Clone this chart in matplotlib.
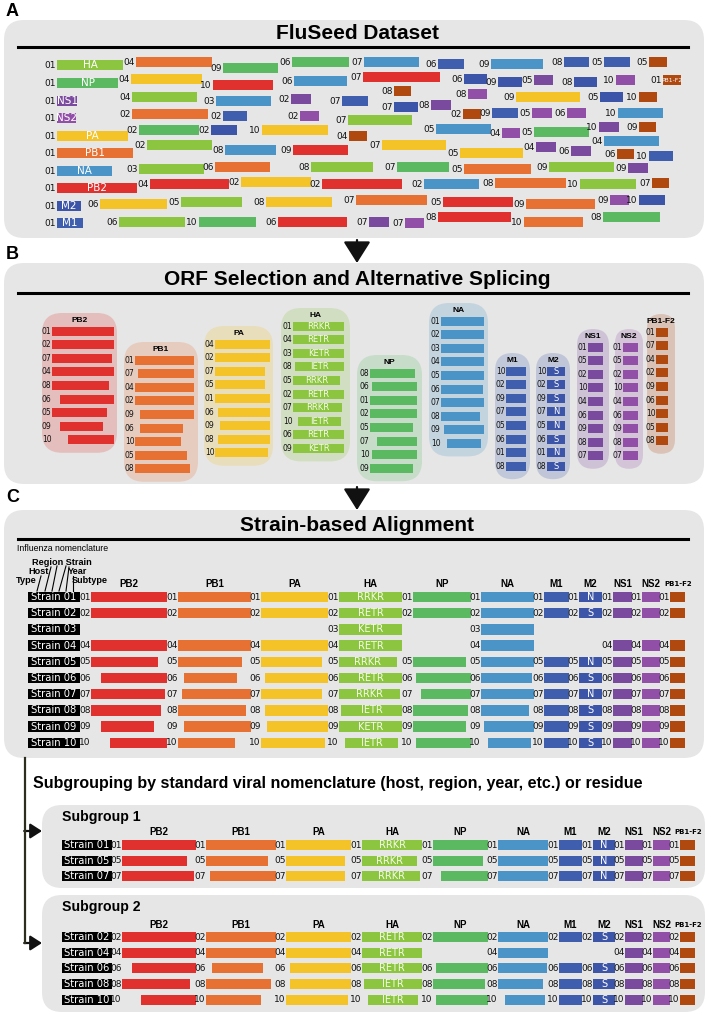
import matplotlib
matplotlib.use('Agg')
import matplotlib.pyplot as plt
from matplotlib.patches import FancyBboxPatch
from matplotlib import font_manager as fm

# ---------------- data ----------------
GENES = ['PB2', 'PB1', 'PA', 'HA', 'NP', 'NA', 'M1', 'M2', 'NS1', 'NS2', 'PB1-F2']
COL = {'PB2': '#e0312f', 'PB1': '#e77132', 'PA': '#f4c327', 'HA': '#8cc540',
       'NP': '#5bb962', 'NA': '#4a94c8', 'M1': '#3f5fae', 'M2': '#3d55a8',
       'NS1': '#7a4a9e', 'NS2': '#914fa8', 'PB1-F2': '#b0490f'}

# ORF extent (fraction of full-length segment) per strain 01..10 ; None = missing
PB2_orf = [(0, 1), (0, 1), None, (0, 1), (0, .88), (.13, 1), (0, .97), (0, .92), (.13, .83), (.25, 1)]
PB1_orf = [(0, 1), (0, 1), None, (0, 1), (0, .88), (.08, .81), (.05, 1), (0, .93), (.08, 1), (0, .78)]
PA_orf = [(0, 1), (0, 1), None, (0, 1), (0, .91), (.06, 1), (0, .91), (.06, 1), (.09, 1), (0, .96)]
HA_orf = [(0, 1), (0, 1), (0, 1), (0, 1), (0, .92), (0, 1), (0, .97), (.03, 1), (0, 1), (.1, .94)]
NP_orf = [(0, 1), (0, 1), None, None, (0, .91), (.05, 1), (.14, 1), (0, .95), (0, .91), (.05, 1)]
NA_orf = [(0, 1), (0, 1), (0, 1), (0, 1), (0, 1), (0, .97), (0, 1), (0, .9), (.06, 1), (.13, .94)]
M1_orf = [(0, 1), (0, 1), None, None, (0, 1), (0, 1), (0, 1), (0, 1), (0, 1), (0, 1)]
M2_orf = [(0, 1), (0, 1), None, None, (0, 1), (0, 1), (0, 1), (0, 1), (0, 1), (0, 1)]
NS1_orf = [(0, 1), (0, 1), None, (0, 1), (0, 1), (0, 1), (0, 1), (0, 1), (0, 1), (0, 1)]
NS2_orf = [(0, 1), (0, 1), None, (0, 1), (0, 1), (0, 1), (0, 1), (0, 1), (0, 1), (0, 1)]
PB1F2_orf = [(0, 1), (0, 1), None, (0, 1), (0, 1), (0, 1), (0, 1), (0, 1), (0, 1), (0, 1)]
HA_site = ['RRKR', 'RETR', 'KETR', 'RETR', 'RRKR', 'RETR', 'RRKR', 'IETR', 'KETR', 'IETR']
M2_res = ['N', 'S', None, None, 'N', 'S', 'N', 'S', 'S', 'S']

# Panel A: unaligned dataset (strain, segment, left, right, row y)
A_strain = ['01', '04', '09', '06', '07', '06', '09', '08', '05', '05',
            '01', '04', '10', '06', '07', '06', '09', '05', '08', '10', '01',
            '01', '04', '03', '02', '07', '08', '08', '09', '05', '10',
            '01', '02', '02', '02', '07', '08', '02', '09', '05', '06', '10', '07',
            '01', '02', '02', '10', '04', '05', '04', '05', '10', '09',
            '01', '02', '08', '09', '07', '05', '04', '06', '04', '06', '10',
            '01', '03', '06', '08', '07', '05', '09', '09',
            '01', '04', '02', '02', '02', '08', '10', '07',
            '01', '06', '05', '08', '07', '05', '09', '09', '10',
            '01', '06', '10', '06', '07', '07', '08', '10', '08']
A_gene = ['HA', 'PB1', 'NP', 'NP', 'NA', 'M1', 'NA', 'M1', 'M1', 'PB1-F2',
          'NP', 'PA', 'PB2', 'NA', 'PB2', 'M2', 'M2', 'NS1', 'M2', 'NS2', 'PB1-F2',
          'NS1', 'HA', 'NA', 'NS1', 'M1', 'PB1-F2', 'NS2', 'PA', 'M2', 'PB1-F2',
          'NS2', 'PB1', 'M1', 'NS2', 'M2', 'NS1', 'PB1-F2', 'M1', 'NS2', 'NS2', 'NA', 'HA',
          'PA', 'NP', 'M2', 'PA', 'PB1-F2', 'NA', 'NS2', 'NP', 'NS1', 'PB1-F2',
          'PB1', 'HA', 'NA', 'PB2', 'PA', 'PA', 'NS1', 'NS1', 'NA', 'PB1-F2', 'M1',
          'NA', 'HA', 'PB1', 'HA', 'NP', 'PB1', 'HA', 'NS1',
          'PB2', 'PB2', 'PA', 'PB2', 'NA', 'PB1', 'HA', 'PB1-F2',
          'M2', 'PA', 'HA', 'PA', 'PB1', 'PB2', 'PB1', 'NS2', 'M2',
          'M1', 'HA', 'NP', 'PB2', 'NS1', 'NS2', 'PB2', 'PB1', 'NP']
A_left = [57, 136, 223, 292, 364, 438, 491, 564, 604, 649,
          57, 131, 213, 294, 363, 464, 498, 534, 574, 616, 663,
          57, 132, 216, 291, 342, 394, 468, 516, 600, 639,
          57, 132, 223, 300, 394, 431, 463, 492, 532, 567, 618, 348,
          57, 139, 211, 262, 349, 436, 502, 534, 599, 639,
          57, 147, 225, 293, 382, 460, 536, 571, 604, 617, 649,
          57, 139, 215, 311, 397, 464, 549, 628,
          57, 150, 241, 322, 424, 495, 580, 652,
          57, 100, 181, 266, 356, 443, 526, 610, 639,
          57, 119, 199, 278, 369, 405, 438, 524, 603]
A_right = [123, 212, 278, 349, 419, 464, 543, 589, 630, 667,
           118, 202, 273, 347, 440, 487, 522, 553, 597, 635, 681,
           77, 197, 271, 311, 368, 411, 487, 580, 623, 657,
           76, 208, 247, 319, 418, 451, 481, 518, 552, 586, 663, 412,
           128, 199, 237, 328, 367, 491, 520, 589, 619, 656,
           133, 212, 276, 348, 446, 523, 556, 591, 659, 634, 673,
           112, 204, 270, 373, 449, 531, 614, 648,
           137, 229, 311, 402, 479, 566, 636, 669,
           81, 167, 242, 332, 427, 513, 595, 629, 665,
           83, 185, 256, 347, 389, 424, 511, 583, 660]
A_y = [65, 62, 68, 62, 62, 64, 64, 62, 62, 62,
       83, 79, 85, 81, 77, 79, 82, 80, 82, 80, 80,
       101, 97, 101, 99, 101, 91, 94, 97, 97, 97,
       118, 114, 116, 116, 107, 105, 114, 113, 113, 113, 113, 120,
       136, 130, 130, 130, 136, 129, 133, 132, 127, 127,
       153, 145, 150, 150, 145, 153, 147, 151, 141, 154, 156,
       171, 169, 167, 167, 167, 169, 167, 168,
       188, 184, 182, 184, 184, 183, 184, 183,
       206, 204, 202, 202, 200, 202, 204, 200, 200,
       223, 222, 222, 222, 222, 223, 217, 222, 217]

# Panel B: strain order inside each segment group
B_order = {'PB2': [1, 2, 7, 4, 8, 6, 5, 9, 10], 'PB1': [1, 7, 4, 2, 9, 6, 10, 5, 8],
           'PA': [4, 2, 7, 5, 1, 6, 9, 8, 10], 'HA': [1, 4, 3, 8, 5, 2, 7, 10, 6, 9],
           'NP': [8, 6, 1, 2, 5, 7, 10, 9], 'NA': [1, 2, 3, 4, 5, 6, 7, 8, 9, 10],
           'M1': [10, 2, 9, 7, 5, 6, 1, 8], 'M2': [10, 2, 9, 7, 5, 6, 1, 8],
           'NS1': [1, 5, 2, 10, 4, 6, 9, 8, 7], 'NS2': [1, 5, 2, 10, 4, 6, 9, 8, 7],
           'PB1-F2': [1, 7, 4, 2, 9, 6, 10, 5, 8]}

SUB1 = [1, 5, 7]
SUB2 = [2, 4, 6, 8, 10]

ORF = {'PB2': PB2_orf, 'PB1': PB1_orf, 'PA': PA_orf, 'HA': HA_orf, 'NP': NP_orf,
       'NA': NA_orf, 'M1': M1_orf, 'M2': M2_orf, 'NS1': NS1_orf, 'NS2': NS2_orf,
       'PB1-F2': PB1F2_orf}

# ---------------- setup ----------------
names = {f.name for f in fm.fontManager.ttflist}
NARROW = 'Liberation Sans Narrow' if 'Liberation Sans Narrow' in names else 'DejaVu Sans'
SANS = 'Liberation Sans' if 'Liberation Sans' in names else 'DejaVu Sans'

W, H = 709, 1013
fig = plt.figure(figsize=(W / 100, H / 100), dpi=100)
ax = fig.add_axes([0, 0, 1, 1])
ax.set_xlim(0, W)
ax.set_ylim(H, 0)
ax.axis('off')
GRAY = '#e6e6e6'
TITLE_FS = 15


def rbox(x0, y0, x1, y1, r, fc, z=1, alpha=1):
    ax.add_patch(FancyBboxPatch((x0, y0), x1 - x0, y1 - y0,
                                boxstyle=f"round,pad=0,rounding_size={r}",
                                fc=fc, ec='none', zorder=z, alpha=alpha))


def num(x, y, s, fs=6.5, color='#111111'):
    ax.text(x, y, s, ha='right', va='center', fontsize=fs, family=NARROW,
            color=color, zorder=5)


def bar(y, x0, x1, g, h):
    ax.barh(y, x1 - x0, left=x0, height=h, color=COL[g], zorder=3, linewidth=0)


def down_arrow(x, y0, y1):
    ax.annotate('', xy=(x, y1), xytext=(x, y0),
                arrowprops=dict(arrowstyle='-|>,head_length=0.95,head_width=0.6',
                                color='#111111', lw=1.6, mutation_scale=14,
                                shrinkA=0, shrinkB=0))


# panel letters
for lab, yy in [('A', 11), ('B', 254), ('C', 497)]:
    ax.text(6, yy, lab, fontsize=13, fontweight='bold', family=SANS, va='center', ha='left')

# ---------------- Panel A ----------------
rbox(4, 20, 704, 238, 20, GRAY)
ax.text(357, 33, 'FluSeed Dataset', fontsize=TITLE_FS, fontweight='bold', family=SANS,
        ha='center', va='center')
ax.plot([18, 688], [47, 47], color='black', lw=2.2, zorder=4)
for s, g, x0, x1, y in zip(A_strain, A_gene, A_left, A_right, A_y):
    bar(y, x0, x1, g, 10.5)
    num(x0 - 1.5, y, s)
    if s == '01':
        ax.text((x0 + x1) / 2, y, g, ha='center', va='center', color='white',
                fontsize=4.3 if g == 'PB1-F2' else 7.5, family=NARROW, zorder=5)

down_arrow(357, 240, 263)

# ---------------- Panel B ----------------
rbox(4, 263, 704, 484, 20, GRAY)
ax.text(357, 279, 'ORF Selection and Alternative Splicing', fontsize=TITLE_FS,
        fontweight='bold', family=SANS, ha='center', va='center')
ax.plot([18, 688], [293, 293], color='black', lw=2.2, zorder=4)

B_bar = {'PB2': (52, 114), 'PB1': (135, 194), 'PA': (215, 270), 'HA': (293, 344),
         'NP': (370, 417), 'NA': (441, 484), 'M1': (506, 526), 'M2': (547, 565),
         'NS1': (588, 603), 'NS2': (623, 638), 'PB1-F2': (656, 668)}
B_first = {'PB2': 331, 'PB1': 360, 'PA': 344, 'HA': 326, 'NP': 373, 'NA': 321,
           'M1': 371, 'M2': 371, 'NS1': 347, 'NS2': 347, 'PB1-F2': 332}
B_pill = {'PB2': (42, 117), 'PB1': (124, 198), 'PA': (204, 273), 'HA': (281, 350),
          'NP': (357, 422), 'NA': (429, 488), 'M1': (495, 530), 'M2': (536, 570),
          'NS1': (577, 609), 'NS2': (615, 643), 'PB1-F2': (647, 675)}
STEP_B = 13.6
for g in GENES:
    order = B_order[g]
    y0 = B_first[g]
    ylast = y0 + STEP_B * (len(order) - 1)
    px0, px1 = B_pill[g]
    rbox(px0, y0 - 18, px1, ylast + 13, min((px1 - px0) / 2, 20), COL[g], z=2, alpha=0.22)
    bx0, bx1 = B_bar[g]
    ax.text((px0 + px1) / 2, y0 - 11, g, ha='center', va='center', fontsize=6,
            fontweight='bold', family=SANS, zorder=5)
    w = bx1 - bx0
    for i, s in enumerate(order):
        y = y0 + i * STEP_B
        a, b = ORF[g][s - 1]
        bar(y, bx0 + a * w, bx0 + b * w, g, 9)
        num(bx0 - 0.5, y, f'{s:02d}', fs=5.5)
        if g == 'HA':
            ax.text(bx0 + (a + b) / 2 * w, y, HA_site[s - 1], ha='center', va='center',
                    color='#f4fbe8', fontsize=6, family=NARROW, zorder=5)
        if g == 'M2':
            ax.text(bx0 + (a + b) / 2 * w, y, M2_res[s - 1], ha='center', va='center',
                    color='white', fontsize=6, family=NARROW, zorder=5)

down_arrow(357, 487, 510)

# ---------------- Panel C ----------------
rbox(4, 510, 704, 758, 20, GRAY)
ax.text(357, 525, 'Strain-based Alignment', fontsize=TITLE_FS, fontweight='bold',
        family=SANS, ha='center', va='center')
ax.plot([18, 688], [539, 539], color='black', lw=2.2, zorder=4)

# nomenclature key
ax.text(17, 548, 'Influenza nomenclature', fontsize=6.3, family=SANS, va='center',
        ha='left', fontweight='medium')
ax.text(32, 562, 'Region Strain', fontsize=6.6, family=SANS, va='center', ha='left',
        fontweight='bold')
ax.text(28, 571, 'Host', fontsize=6.6, family=SANS, va='center', ha='left', fontweight='bold')
ax.text(68, 571, 'Year', fontsize=6.6, family=SANS, va='center', ha='left', fontweight='bold')
ax.text(16, 580, 'Type', fontsize=6.6, family=SANS, va='center', ha='left', fontweight='bold')
ax.text(72, 580, 'Subtype', fontsize=6.6, family=SANS, va='center', ha='left', fontweight='bold')
for xt, yt, xb in [(41, 576, 37), (51, 567, 45), (57, 566, 52), (66, 566, 59),
                   (69, 567, 66), (73, 576, 73)]:
    ax.plot([xt, xb], [yt, 591], color='black', lw=0.8, zorder=4)


def draw_alignment(strains, cols, box, y0, dy, head_y, h):
    for g in GENES:
        x0, x1 = cols[g]
        if g == 'PB1-F2':
            ax.text((x0 + x1) / 2 + 1, head_y, g, ha='center', va='center', fontsize=5,
                    family=NARROW, fontweight='bold', zorder=5)
        else:
            ax.text((x0 + x1) / 2, head_y, g, ha='center', va='center', fontsize=7,
                    family=SANS, fontweight='bold', zorder=5)
    for i, s in enumerate(strains):
        y = y0 + i * dy
        ax.barh(y, box[1] - box[0], left=box[0], height=h, color='black', zorder=3)
        ax.text((box[0] + box[1]) / 2, y, f'Strain {s:02d}', ha='center', va='center',
                color='white', fontsize=7.2, family=NARROW, zorder=5)
        for g in GENES:
            orf = ORF[g][s - 1]
            if orf is None:
                continue
            x0, x1 = cols[g]
            w = x1 - x0
            a, b = orf
            bar(y, x0 + a * w, x0 + b * w, g, h)
            num(x0 - 0.5, y, f'{s:02d}')
            mid = x0 + (a + b) / 2 * w
            if g == 'HA':
                ax.text(mid, y, HA_site[s - 1], ha='center', va='center',
                        color='#f4fbe8', fontsize=7, family=NARROW, zorder=5)
            if g == 'M2':
                ax.text(mid, y, M2_res[s - 1], ha='center', va='center',
                        color='white', fontsize=7, family=NARROW, zorder=5)


C_cols = {'PB2': (91, 167), 'PB1': (178, 251), 'PA': (261, 328), 'HA': (339, 402),
          'NP': (413, 471), 'NA': (481, 534), 'M1': (544, 569), 'M2': (579, 602),
          'NS1': (613, 632), 'NS2': (642, 660), 'PB1-F2': (670, 685)}
draw_alignment(list(range(1, 11)), C_cols, (28, 80), 597, 16.2, 584, 10.5)

# ---------------- Subgroups ----------------
ax.text(33, 783, 'Subgrouping by standard viral nomenclature (host, region, year, etc.) or residue',
        fontsize=11.5, fontweight='bold', family=SANS, va='center', ha='left')
LINE_C = '#2e2e1e'
ax.plot([25, 25], [758, 943], color=LINE_C, lw=1.6, zorder=4)
for yy in (831, 943):
    ax.annotate('', xy=(42, yy), xytext=(24.2, yy),
                arrowprops=dict(arrowstyle='-|>,head_length=0.7,head_width=0.45',
                                color='#111111', lw=1.6, mutation_scale=10,
                                shrinkA=0, shrinkB=0))

S_cols = {'PB2': (122, 196), 'PB1': (206, 276), 'PA': (286, 351), 'HA': (362, 422),
          'NP': (433, 488), 'NA': (498, 548), 'M1': (559, 582), 'M2': (593, 615),
          'NS1': (625, 643), 'NS2': (653, 670), 'PB1-F2': (680, 695)}

rbox(42, 805, 705, 888, 20, GRAY)
ax.text(62, 817, 'Subgroup 1', fontsize=10.2, fontweight='bold', family=SANS,
        va='center', ha='left')
draw_alignment(SUB1, S_cols, (62, 112), 845, 15.6, 832, 10)

rbox(42, 895, 705, 1012, 20, GRAY)
ax.text(62, 907, 'Subgroup 2', fontsize=10.2, fontweight='bold', family=SANS,
        va='center', ha='left')
draw_alignment(SUB2, S_cols, (62, 112), 937, 15.7, 925, 10)

fig.savefig('out.png', dpi=100)
